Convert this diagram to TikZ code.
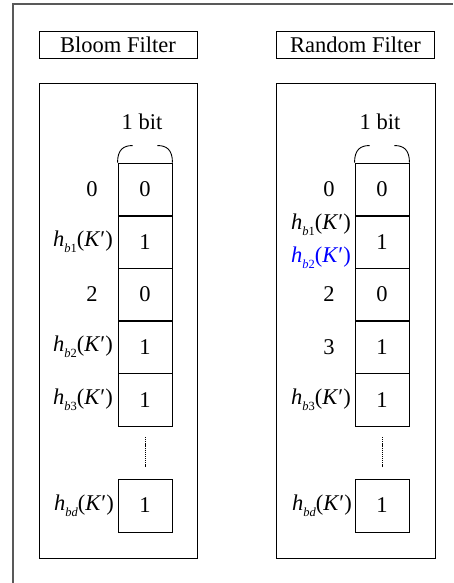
\documentclass[tikz,border=0pt]{standalone}
\usepackage{fontspec}
\setmainfont{Liberation Serif}
\newcommand{\hsub}[1]{\textit{h}\raisebox{-0.55ex}{\fontsize{12.5}{12.5}\selectfont #1}(\textit{K}′)}
\begin{document}
\begin{tikzpicture}[x=1pt,y=-1pt,
  every node/.style={font=\fontsize{22.5}{26}\selectfont, inner sep=0pt},
  cell/.style={draw, line width=0.9pt, minimum width=54pt, minimum height=53pt},
  title/.style={draw, line width=0.9pt, minimum width=158pt, minimum height=27pt},
  panel/.style={draw, line width=0.9pt},
  brace/.style={line width=0.9pt},
  dots/.style={line width=0.9pt, dash pattern=on 1.2pt off 0.9pt},
  lbl/.style={anchor=east},
  num/.style={}]
\useasboundingbox (0,0) rectangle (453,583);
% outer frame (cropped)
\draw[line width=1.6pt, black!65] (13,583) -- (13,4) -- (453,4);
% titles
\node[title] (t1) at (118,44.5) {Bloom Filter};
\node[title] (t2) at (355.5,44.5) {Random Filter};
% panels
\draw[panel] (39,83) rectangle (197,558);
\draw[panel] (276,83) rectangle (435,558);
% ---------- left ----------
\node (bit1) at (142,122) {1 bit};
\node[cell] (a1) at (145,189.5) {0};
\node[cell] (a2) at (145,242) {1};
\node[cell] (a3) at (145,294.5) {0};
\node[cell] (a4) at (145,347) {1};
\node[cell] (a5) at (145,400) {1};
\node[cell] (a6) at (145,505.5) {1};
\draw[brace] (a1.north west) .. controls +(0,-13) and +(-9,0) .. ++(15,-17);
\draw[brace] (a1.north east) .. controls +(0,-13) and +(9,0) .. ++(-15,-17);
\coordinate (ad1) at (145,437);
\coordinate (ad2) at (145,467);
\draw[dots] (ad1) -- (ad2);
\node[num] (la1) at (92,189.5) {0};
\node[lbl] (la2) at (113,242) {\hsub{\textit{b}1}};
\node[num] (la3) at (92,294.5) {2};
\node[lbl] (la4) at (113,347) {\hsub{\textit{b}2}};
\node[lbl] (la5) at (113,400) {\hsub{\textit{b}3}};
\node[lbl] (la6) at (114,505.5) {\hsub{\textit{bd}}};
% ---------- right ----------
\node (bit2) at (380,122) {1 bit};
\node[cell] (b1) at (382,189.5) {0};
\node[cell] (b2) at (382,242) {1};
\node[cell] (b3) at (382,294.5) {0};
\node[cell] (b4) at (382,347) {1};
\node[cell] (b5) at (382,400) {1};
\node[cell] (b6) at (382,505.5) {1};
\draw[brace] (b1.north west) .. controls +(0,-13) and +(-9,0) .. ++(15,-17);
\draw[brace] (b1.north east) .. controls +(0,-13) and +(9,0) .. ++(-15,-17);
\coordinate (bd1) at (382,437);
\coordinate (bd2) at (382,467);
\draw[dots] (bd1) -- (bd2);
\node[num] (lb1) at (329,189.5) {0};
\node[lbl] (lb2a) at (351,225) {\hsub{\textit{b}1}};
\node[lbl, text=blue] (lb2b) at (351,258) {\hsub{\textit{b}2}};
\node[num] (lb3) at (329,294.5) {2};
\node[num] (lb4) at (329,347) {3};
\node[lbl] (lb5) at (351,400) {\hsub{\textit{b}3}};
\node[lbl] (lb6) at (352,505.5) {\hsub{\textit{bd}}};
\end{tikzpicture}
\end{document}
